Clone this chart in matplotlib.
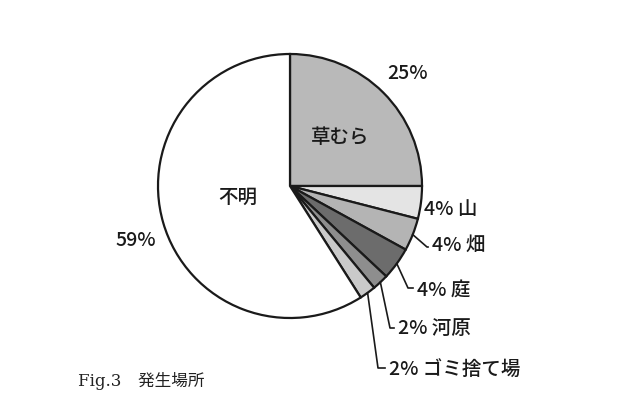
import numpy as np
import matplotlib
matplotlib.use("Agg")
import matplotlib.pyplot as plt

plt.rcParams['font.family'] = ['Noto Sans CJK JP', 'DejaVu Sans']

# clockwise from 12 o'clock
places = ['草むら', '山', '畑', '庭', '河原', 'ゴミ捨て場', '不明']
percents = [25, 4, 4, 4, 2, 2, 59]
colors = ['#b9b9b9', '#e4e4e4', '#b4b4b4', '#6c6c6c', '#8e8e8e', '#cacaca', '#ffffff']
caption = 'Fig.3　発生場所'

W, H = 640, 412
fig = plt.figure(figsize=(6.4, 4.12), dpi=100)
ax = fig.add_axes([0, 0, 1, 1])

cx, cy, r = 290, H - 186, 132
wedges, _ = ax.pie(percents, colors=colors, startangle=90, counterclock=False,
                   center=(cx, cy), radius=r, frame=True,
                   wedgeprops=dict(edgecolor='#1a1a1a', linewidth=1.6))
ax.set_xlim(0, W)
ax.set_ylim(0, H)
ax.set_aspect('equal')
ax.axis('off')

def py(y):
    return H - y

fs = 14
tkw = dict(fontsize=fs, weight='medium', color='#1a1a1a')
# labels inside / near big slices
ax.text(408, py(73), f'{percents[0]}%', ha='center', va='center', **tkw)
ax.text(340, py(137), places[0], ha='center', va='center', **tkw)
ax.text(238, py(197), places[6], ha='center', va='center', **tkw)
ax.text(136, py(240), f'{percents[6]}%', ha='center', va='center', **tkw)

# small slices on the right: (text left x, text y, elbow x, elbow y) in pixels
small = {1: (424, 209, None, None),
         2: (432, 245, 427, 247),
         3: (417, 290, 408, 288),
         4: (398, 328, 390, 328),
         5: (389, 370, 378, 368)}
for i, (tx, ty, ex, ey) in small.items():
    ax.text(tx, py(ty), f'{percents[i]}% {places[i]}', ha='left', va='center', **tkw)
    if ex is None:
        continue
    w = wedges[i]
    ang = np.deg2rad((w.theta1 + w.theta2) / 2)
    sx, sy = cx + r * np.cos(ang), cy + r * np.sin(ang)
    ax.plot([sx, ex, tx - 4], [sy, py(ey), py(ey)], color='#1a1a1a', lw=1.2)

ax.text(78, py(381), caption, fontsize=12, ha='left', va='center',
        family=['DejaVu Serif', 'Noto Sans CJK JP'], color='#222222')

fig.savefig('out.png', dpi=100)
